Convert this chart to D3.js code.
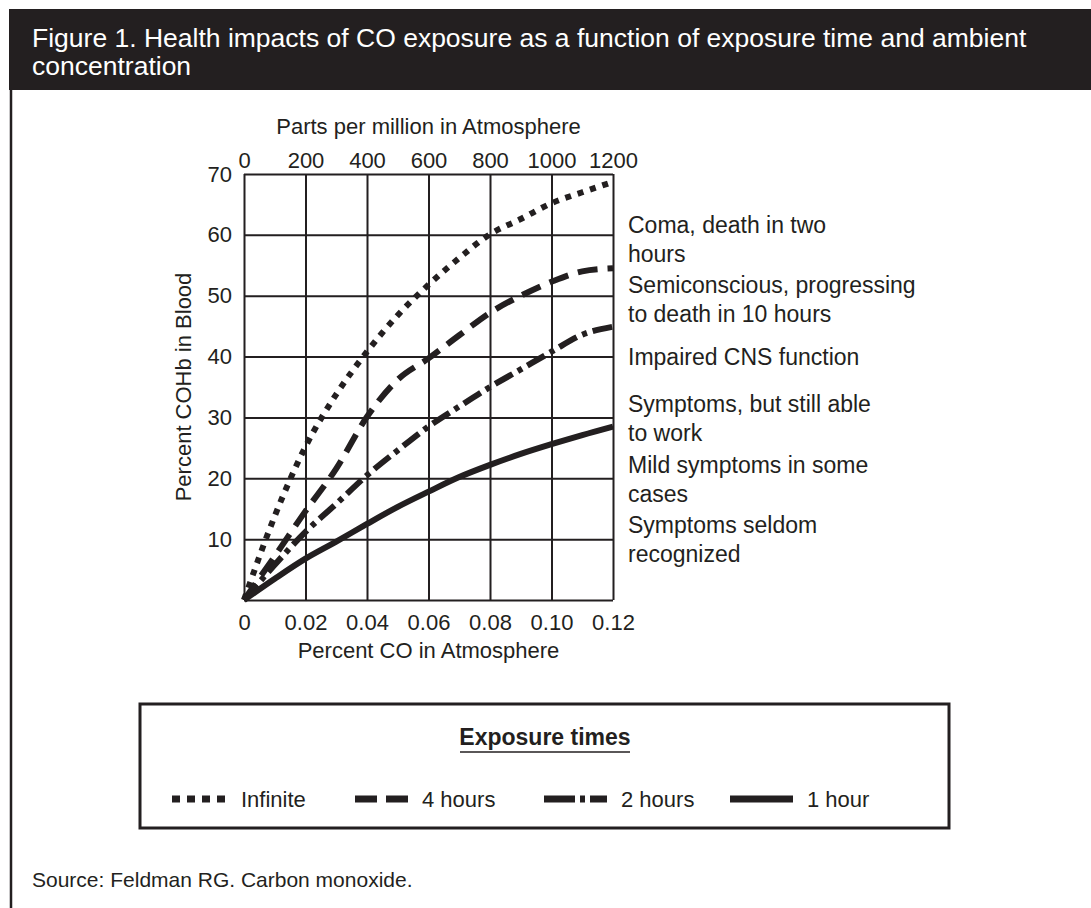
<!DOCTYPE html>
<html>
<head>
<meta charset="utf-8">
<script src="https://cdn.jsdelivr.net/npm/d3@7"></script>
<style>
  body { margin: 0; background: #fff; }
  svg { display: block; font-family: "Liberation Sans", Arial, Helvetica, sans-serif; }
  .axis text { fill: #231f20; }
  .axis path.domain { display: none; }
</style>
</head>
<body>
<svg id="chart"></svg>
<script>
// data
var pctCO = [0, 0.01, 0.02, 0.03, 0.04, 0.05, 0.06, 0.07, 0.08, 0.09, 0.10, 0.11, 0.12];
var infinite = [0, 13.8, 25.2, 33.8, 40.8, 46.8, 51.8, 56.2, 60.1, 62.6, 65.2, 67.0, 68.7];
var hours4 = [0, 7.2, 14.6, 21.6, 30.1, 36.2, 39.7, 43.5, 47.2, 50.0, 52.3, 54.0, 54.5];
var hours2 = [0, 5.8, 11.2, 15.8, 20.5, 24.6, 28.5, 31.8, 35.0, 37.9, 40.8, 43.6, 44.9];
var hour1 = [0, 3.5, 6.8, 9.6, 12.5, 15.3, 17.8, 20.2, 22.2, 24.0, 25.6, 27.1, 28.5];

var seriesNames = ["Infinite", "4 hours", "2 hours", "1 hour"];
var xTicks = [0, 0.02, 0.04, 0.06, 0.08, 0.10, 0.12];
var xTickLabels = ["0", "0.02", "0.04", "0.06", "0.08", "0.10", "0.12"];
var ppmTicks = [0, 200, 400, 600, 800, 1000, 1200];
var yTicks = [10, 20, 30, 40, 50, 60, 70];
var effects = [
  ["Coma, death in two", "hours"],
  ["Semiconscious, progressing", "to death in 10 hours"],
  ["Impaired CNS function"],
  ["Symptoms, but still able", "to work"],
  ["Mild symptoms in some", "cases"],
  ["Symptoms seldom", "recognized"]
];
var effectTops = [233, 293, 365, 412, 473, 533];

var W = 1091, H = 908;
var ink = "#231f20";
var dashes = ["6,7", "20,10", "20,6,5,6", null];
var legendDashes = ["8,7", "22,9", "31,5,5,5,17", null];

var svg = d3.select("#chart").attr("width", W).attr("height", H);

// title bar + frame
svg.append("rect").attr("x", 9).attr("y", 9).attr("width", W - 9).attr("height", 81).attr("fill", ink);
svg.append("line").attr("x1", 11).attr("x2", 11).attr("y1", 90).attr("y2", H).attr("stroke", ink).attr("stroke-width", 2.5);
var title = svg.append("text").attr("x", 32).attr("y", 47).attr("fill", "#fff").style("font-size", "26.5px");
title.append("tspan").text("Figure 1. Health impacts of CO exposure as a function of exposure time and ambient");
title.append("tspan").attr("x", 32).attr("dy", 28).text("concentration");

var pLeft = 244, pRight = 613, pTop = 174, pBottom = 600;
var x = d3.scaleLinear().domain([0, 0.12]).range([pLeft, pRight]);
var xPpm = d3.scaleLinear().domain([0, 1200]).range([pLeft, pRight]);
var y = d3.scaleLinear().domain([0, 70]).range([pBottom, pTop]);

// grid via axes
svg.append("g").attr("class", "axis grid")
  .attr("transform", "translate(0," + pBottom + ")")
  .call(d3.axisBottom(x).tickValues(xTicks).tickSize(-(pBottom - pTop)).tickFormat(""))
  .call(function (g) { g.selectAll("line").attr("stroke", ink).attr("stroke-width", 2); });
svg.append("g").attr("class", "axis grid")
  .attr("transform", "translate(" + pLeft + ",0)")
  .call(d3.axisLeft(y).tickValues([0].concat(yTicks)).tickSize(-(pRight - pLeft)).tickFormat(""))
  .call(function (g) { g.selectAll("line").attr("stroke", ink).attr("stroke-width", 2); });

// tick labels
svg.append("g").attr("class", "axis")
  .attr("transform", "translate(0," + pBottom + ")")
  .call(d3.axisBottom(x).tickValues(xTicks).tickSize(0).tickPadding(14)
    .tickFormat(function (d, i) { return xTickLabels[i]; }))
  .call(function (g) { g.selectAll("text").style("font-size", "22px").attr("font-family", null); });
svg.append("g").attr("class", "axis")
  .attr("transform", "translate(0," + pTop + ")")
  .call(d3.axisTop(xPpm).tickValues(ppmTicks).tickSize(0).tickPadding(6).tickFormat(d3.format("d")))
  .call(function (g) { g.selectAll("text").style("font-size", "22px").attr("font-family", null); });
svg.append("g").attr("class", "axis")
  .attr("transform", "translate(" + pLeft + ",0)")
  .call(d3.axisLeft(y).tickValues(yTicks).tickSize(0).tickPadding(12))
  .call(function (g) { g.selectAll("text").style("font-size", "22px").attr("font-family", null); });

// axis titles
svg.append("text").attr("x", (pLeft + pRight) / 2).attr("y", 658).attr("text-anchor", "middle")
  .attr("fill", ink).style("font-size", "22px").text("Percent CO in Atmosphere");
svg.append("text").attr("x", (pLeft + pRight) / 2).attr("y", 134).attr("text-anchor", "middle")
  .attr("fill", ink).style("font-size", "22px").text("Parts per million in Atmosphere");
svg.append("text").attr("transform", "translate(191," + (pTop + pBottom) / 2 + ") rotate(-90)")
  .attr("text-anchor", "middle").attr("fill", ink).style("font-size", "22px").text("Percent COHb in Blood");

// curves
var allSeries = [infinite, hours4, hours2, hour1];
var line = d3.line()
  .x(function (d, i) { return x(pctCO[i]); })
  .y(function (d) { return y(d); })
  .curve(d3.curveMonotoneX);
svg.selectAll("path.curve")
  .data(allSeries)
  .enter()
  .append("path")
  .attr("class", "curve")
  .attr("d", line)
  .attr("fill", "none")
  .attr("stroke", ink)
  .attr("stroke-width", 6)
  .attr("stroke-dasharray", function (d, i) { return dashes[i]; });

// effect annotations
var ann = svg.append("g").attr("fill", ink).style("font-size", "23px");
effects.forEach(function (lines, i) {
  var t = ann.append("text").attr("x", 628).attr("y", effectTops[i]);
  lines.forEach(function (s, j) {
    t.append("tspan").attr("x", 628).attr("dy", j ? 29 : 0).text(s);
  });
});

// legend
svg.append("rect").attr("x", 140).attr("y", 704).attr("width", 809).attr("height", 124)
  .attr("fill", "none").attr("stroke", ink).attr("stroke-width", 3);
svg.append("text").attr("x", 545).attr("y", 745).attr("text-anchor", "middle")
  .attr("fill", ink).style("font-size", "23px").style("font-weight", "bold").text("Exposure times");
svg.append("line").attr("x1", 460).attr("x2", 630).attr("y1", 752).attr("y2", 752)
  .attr("stroke", ink).attr("stroke-width", 1.5);

var legendX = [172, 355, 544, 730];
var legendLen = [55, 53, 63, 63];
var items = svg.selectAll("g.leg").data(seriesNames).enter().append("g").attr("class", "leg");
items.append("line")
  .attr("x1", function (d, i) { return legendX[i]; })
  .attr("x2", function (d, i) { return legendX[i] + legendLen[i]; })
  .attr("y1", 799).attr("y2", 799)
  .attr("stroke", ink).attr("stroke-width", 7)
  .attr("stroke-dasharray", function (d, i) { return legendDashes[i]; });
items.append("text")
  .attr("x", function (d, i) { return legendX[i] + legendLen[i] + 14; })
  .attr("y", 807).attr("fill", ink).style("font-size", "22px")
  .text(function (d) { return d; });

svg.append("text").attr("x", 32).attr("y", 887).attr("fill", ink).style("font-size", "21px")
  .text("Source: Feldman RG. Carbon monoxide.");
</script>
</body>
</html>
